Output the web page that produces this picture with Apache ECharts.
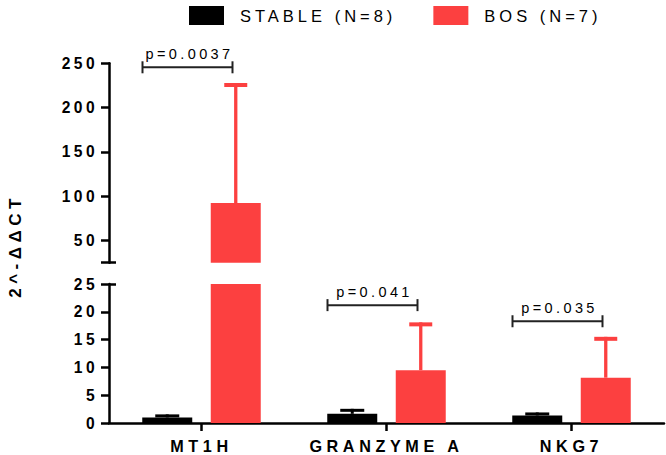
<!DOCTYPE html>
<html><head><meta charset="utf-8">
<script src="https://cdn.jsdelivr.net/npm/echarts@6/dist/echarts.min.js"></script>
<style>
html,body{margin:0;padding:0;background:#fff}
#c{width:666px;height:455px}
text[style*="16.5px"]{letter-spacing:4px}
text[style*="14.5px"]{letter-spacing:3.4px}
text[style*="16.2px"]{letter-spacing:4.6px}
text[style*="15.6px"]{letter-spacing:3.4px}
text[style*="17px"]{letter-spacing:4.5px}
</style></head><body><div id="c"></div>
<script>
// ---- data ----
const categories = ['MT1H', 'GRANZYME A', 'NKG7'];
const stableMean = [1.0, 1.65, 1.35];
const stableSD = [0.55, 0.9, 0.55];
const bosMean = [92.4, 9.5, 8.15];
const bosSD = [135.4, 8.6, 7.35];
const lowerTicks = [0, 5, 10, 15, 20, 25];
const upperTicks = [50, 100, 150, 200, 250];
const breakValue = 25;
const upperMax = 250;
const pLabels = ['p=0.0037', 'p=0.041', 'p=0.035'];
const pHeights = [245.5, 21.2, 18.3];
const seriesNames = ['STABLE (N=8)', 'BOS (N=7)'];

// ---- style ----
const FONT = '"Liberation Sans", Arial, sans-serif';
const RED = '#fc4040';
const BLACK = '#000';
const BAR_W = 50, BAR_GAP = 18.5;
const OFFSET = (BAR_W + BAR_GAP) / 2;

const chart = echarts.init(document.getElementById('c'), null, {renderer: 'svg'});

function errSeries(grid, mean, sd, side, color, capW, lineW, capH) {
  return {
    type: 'custom', xAxisIndex: grid, yAxisIndex: grid, clip: true, silent: true, z: 3,
    data: categories.map((c, i) => [i, mean[i], mean[i] + sd[i]]),
    renderItem: function (params, api) {
      const p0 = api.coord([api.value(0), api.value(1)]);
      const p1 = api.coord([api.value(0), api.value(2)]);
      const x = p0[0] + side * OFFSET;
      return {
        type: 'group', children: [
          {type: 'line', shape: {x1: x, y1: p0[1], x2: x, y2: p1[1]}, style: {stroke: color, lineWidth: lineW}},
          {type: 'rect', shape: {x: x - capW / 2, y: p1[1], width: capW, height: capH}, style: {fill: color}}
        ]
      };
    }
  };
}

function bracketSeries(grid, filterFn) {
  const data = [];
  categories.forEach((c, i) => { if (filterFn(pHeights[i])) data.push([i, pHeights[i], pLabels[i]]); });
  return {
    type: 'custom', xAxisIndex: grid, yAxisIndex: grid, silent: true, z: 4,
    data: data,
    renderItem: function (params, api) {
      const p = api.coord([api.value(0), api.value(1)]);
      const x1 = p[0] - 59, x2 = p[0] + 31, y = p[1];
      const st = {stroke: '#222', lineWidth: 2};
      return {
        type: 'group', children: [
          {type: 'line', shape: {x1: x1, y1: y, x2: x2, y2: y}, style: st},
          {type: 'line', shape: {x1: x1, y1: y - 6, x2: x1, y2: y + 6}, style: st},
          {type: 'line', shape: {x1: x2, y1: y - 6, x2: x2, y2: y + 6}, style: st},
          {type: 'text', style: {text: data[params.dataIndex][2], x: (x1 + x2) / 2 + 2, y: y - 6,
            textAlign: 'center', textVerticalAlign: 'bottom', fontSize: 14.5, fontFamily: FONT, fill: '#000'}}
        ]
      };
    }
  };
}

const axisLineStyle = {color: BLACK, width: 2.5};
const yLabel = {color: BLACK, fontSize: 15.6, fontWeight: 'bold', fontFamily: FONT, margin: 11};

const option = {
  backgroundColor: '#fff',
  animation: false,
  legend: {
    left: 184, top: 1, itemWidth: 35, itemHeight: 19, itemGap: 85, icon: 'rect',
    textStyle: {fontSize: 16.5, color: BLACK, fontFamily: FONT, padding: [0, 0, 0, 11]},
    data: seriesNames
  },
  grid: [
    {left: 109, right: 2, top: 63.3, bottom: 192.3, outerBoundsMode: 'none'},
    {left: 109, right: 2, top: 284, bottom: 32, outerBoundsMode: 'none'}
  ],
  xAxis: [
    {type: 'category', gridIndex: 0, data: categories, show: false},
    {type: 'category', gridIndex: 1, data: categories,
      axisLine: {show: true, lineStyle: axisLineStyle},
      axisTick: {show: true, alignWithLabel: true, length: 8, lineStyle: axisLineStyle},
      axisLabel: {color: BLACK, fontSize: 16.2, fontWeight: 'bold', fontFamily: FONT, margin: 15},
      splitLine: {show: false}}
  ],
  yAxis: [
    {type: 'value', gridIndex: 0, position: 'left', min: breakValue, max: upperMax,
      axisLine: {show: true, lineStyle: axisLineStyle},
      axisTick: {show: true, length: 8, lineStyle: axisLineStyle, customValues: [breakValue].concat(upperTicks)},
      axisLabel: Object.assign({customValues: upperTicks}, yLabel),
      splitLine: {show: false}},
    {type: 'value', gridIndex: 1, position: 'left', min: 0, max: breakValue, interval: 5,
      axisLine: {show: true, lineStyle: axisLineStyle},
      axisTick: {show: true, length: 8, lineStyle: axisLineStyle, customValues: lowerTicks},
      axisLabel: Object.assign({customValues: lowerTicks}, yLabel),
      splitLine: {show: false}},
    {type: 'value', gridIndex: 0, position: 'left', min: breakValue, max: upperMax,
      axisLine: {show: false}, axisLabel: {show: false}, splitLine: {show: false},
      axisTick: {show: true, inside: true, length: 7, lineStyle: axisLineStyle, customValues: [breakValue]}},
    {type: 'value', gridIndex: 1, position: 'left', min: 0, max: breakValue,
      axisLine: {show: false}, axisLabel: {show: false}, splitLine: {show: false},
      axisTick: {show: true, inside: true, length: 7, lineStyle: axisLineStyle, customValues: [breakValue]}}
  ],
  graphic: [{
    type: 'text', x: 15, y: 246, rotation: Math.PI / 2,
    style: {text: '2^-ΔΔCT', fontSize: 17, fontWeight: 'bold', fontFamily: FONT, fill: BLACK,
      textAlign: 'center', textVerticalAlign: 'middle'}
  }],
  series: [
    {name: seriesNames[0], type: 'bar', xAxisIndex: 0, yAxisIndex: 0, data: stableMean, barWidth: BAR_W, barGap: (BAR_GAP / BAR_W * 100) + '%', itemStyle: {color: BLACK}, clip: true, silent: true},
    {name: seriesNames[1], type: 'bar', xAxisIndex: 0, yAxisIndex: 0, data: bosMean, barWidth: BAR_W, itemStyle: {color: RED}, clip: true, silent: true},
    {name: seriesNames[0], type: 'bar', xAxisIndex: 1, yAxisIndex: 1, data: stableMean, barWidth: BAR_W, barGap: (BAR_GAP / BAR_W * 100) + '%', itemStyle: {color: BLACK}, clip: true, silent: true},
    {name: seriesNames[1], type: 'bar', xAxisIndex: 1, yAxisIndex: 1, data: bosMean, barWidth: BAR_W, itemStyle: {color: RED}, clip: true, silent: true},
    errSeries(1, stableMean, stableSD, -1, BLACK, 24, 3, 3),
    errSeries(0, bosMean, bosSD, 1, RED, 23, 3.3, 4),
    errSeries(1, bosMean, bosSD, 1, RED, 23, 3.3, 4),
    bracketSeries(0, v => v > breakValue),
    bracketSeries(1, v => v <= breakValue)
  ]
};
chart.setOption(option);
</script></body></html>
